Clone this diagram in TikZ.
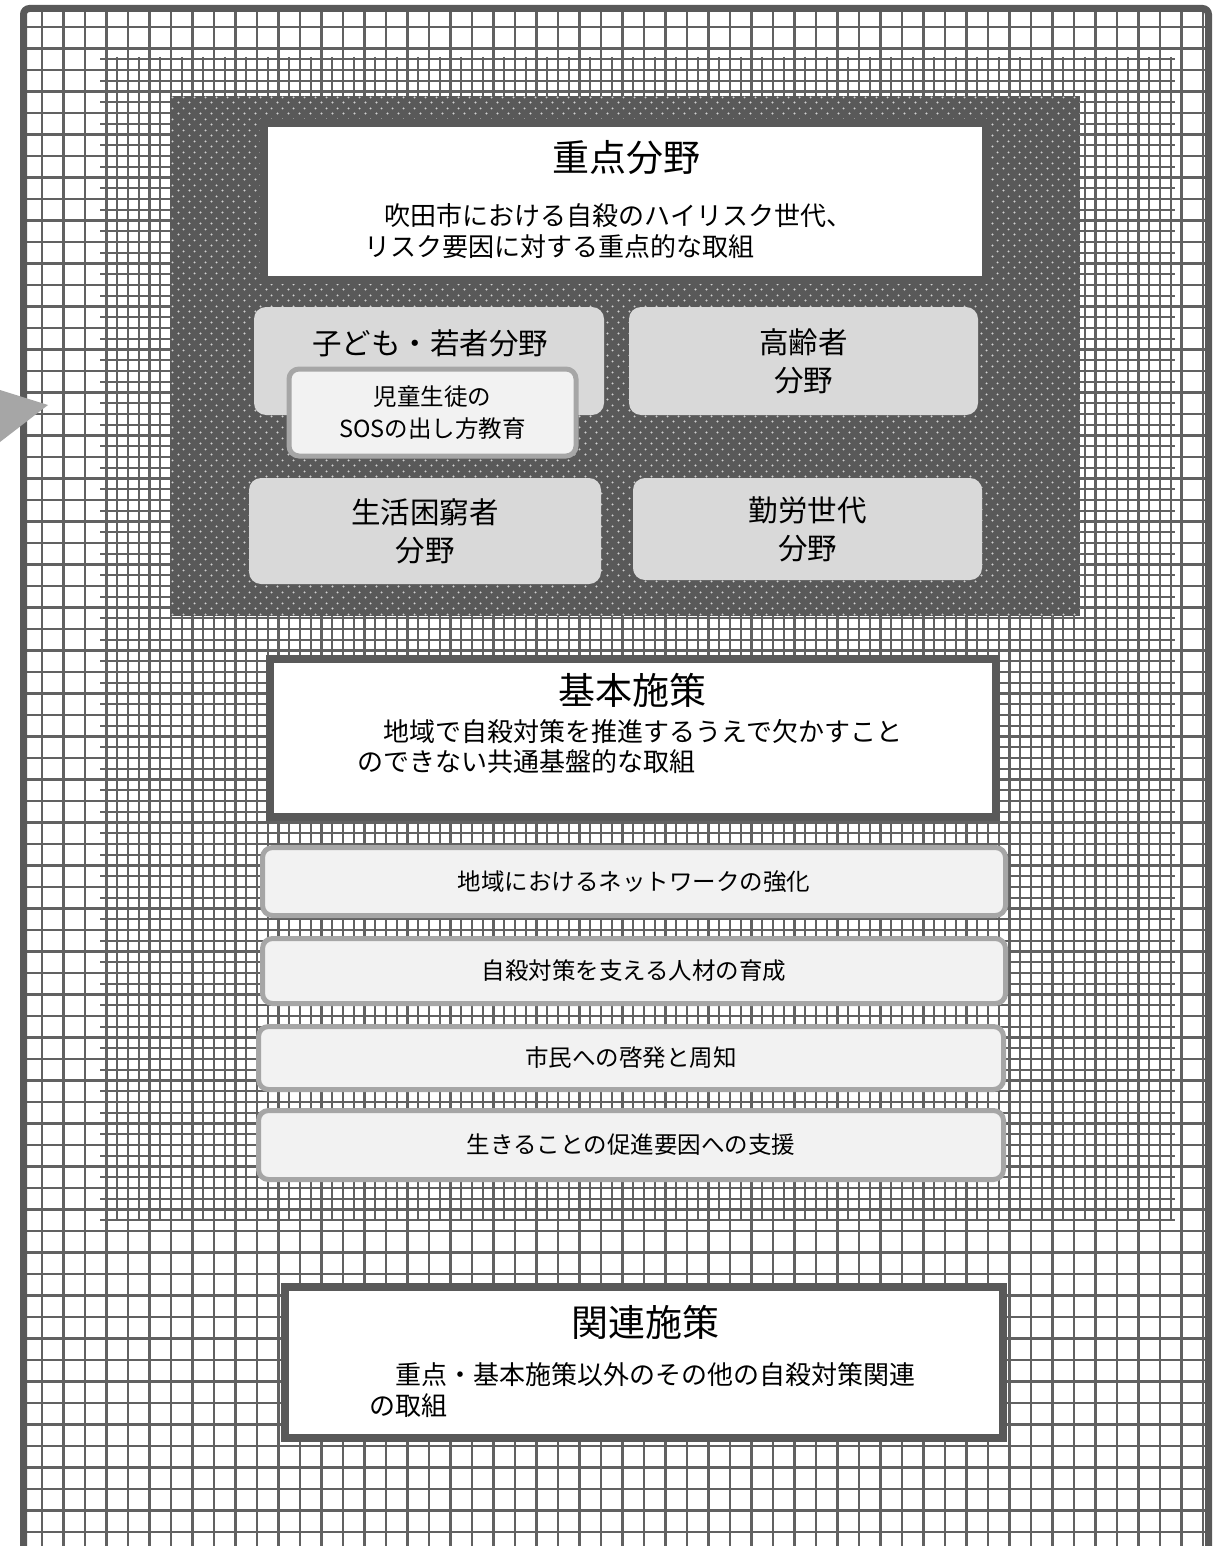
\documentclass[tikz,border=0pt]{standalone}
\usepackage{fontspec}
\setmainfont{Noto Sans CJK JP}
\usetikzlibrary{patterns.meta}
\definecolor{framegray}{HTML}{595959}
\definecolor{fieldgray}{HTML}{D9D9D9}
\definecolor{palegray}{HTML}{F2F2F2}
\definecolor{edgegray}{HTML}{A6A6A6}

\tikzdeclarepattern{
  name=halftone,
  type=uncolored,
  bounding box={(0pt,0pt) and (5.5pt,5.5pt)},
  tile size={(5.5pt,5.5pt)},
  code={
    \fill (1.375pt,1.375pt) circle (0.6pt);
    \fill (4.125pt,4.125pt) circle (0.6pt);
  }
}

\tikzset{
  gridline/.style={draw=black!62, line width=1.2pt},
  bigbox/.style={draw=framegray, fill=white, line width=4pt},
  fieldbox/.style={fill=fieldgray, rounded corners=6pt, align=center,
    font=\fontsize{14.75}{19}\selectfont},
  itembox/.style={draw=edgegray, fill=palegray, line width=2.5pt, rounded corners=5pt,
    align=center, font=\fontsize{11.75}{16}\selectfont},
  titletext/.style={font=\fontsize{18.5}{22}\selectfont},
  bodytext/.style={anchor=west, align=left, font=\fontsize{13}{15.25}\selectfont},
}

\begin{document}
\begin{tikzpicture}[x=0.5pt, y=-0.5pt]
\useasboundingbox (0,0) rectangle (1220,1546);
\clip (0,0) rectangle (1220,1546);
\fill[white] (0,0) rectangle (1220,1546);
\begin{scope}
\clip (27,12) rectangle (1205,1546);
\foreach \i in {0,...,54} \draw[gridline] ({42+21.5*\i},12) -- ({42+21.5*\i},1546);
\foreach \i in {0,...,71} \draw[gridline] (27,{27+21.5*\i}) -- (1205,{27+21.5*\i});
\end{scope}
\foreach \i in {6,...,105} \draw[gridline] ({42+10.75*\i},57) -- ({42+10.75*\i},1220);
\foreach \i in {3,...,111} \draw[gridline] (100,{27+10.75*\i}) -- (1175,{27+10.75*\i});
\draw[framegray, line width=3.5pt, rounded corners=3pt] (23.5,1560) |- (1208.5,8.5) -- (1208.5,1560);
\fill[edgegray] (0,390) -- (48,405) -- (0,442) -- cycle;

\fill[framegray] (170,96) rectangle (1080,616);
\fill[pattern=halftone, pattern color=black!18] (170,96) rectangle (1080,616);

\node[bigbox, minimum width=361pt, minimum height=78.25pt](juten) at (625,201.75){};
\node[titletext](jutentitle) at (626,158){重点分野};
\node[bodytext](jutenbody) at (357,231){\hspace*{0.8em}吹田市における自殺のハイリスク世代、\\リスク要因に対する重点的な取組};

\node[fieldbox, minimum width=175pt, minimum height=54pt](kodomo) at (429,361){};
\node[font=\fontsize{14.75}{19}\selectfont](kodomotitle) at (430,343){子ども・若者分野};
\node[itembox, minimum width=143.5pt, minimum height=43.5pt](sos) at (432.5,412.5){児童生徒の\\SOSの出し方教育};
\node[fieldbox, minimum width=174.5pt, minimum height=54pt](koreisha) at (803.5,361){高齢者\\分野};
\node[fieldbox, minimum width=176pt, minimum height=53pt](konkyu) at (425,531){生活困窮者\\分野};
\node[fieldbox, minimum width=174.5pt, minimum height=51pt](kinro) at (807.5,529){勤労世代\\分野};

\node[bigbox, minimum width=363pt, minimum height=79pt](kihon) at (633,738){};
\node[titletext](kihontitle) at (632,690){基本施策};
\node[bodytext](kihonbody) at (350,746.5){\hspace*{1em}地域で自殺対策を推進するうえで欠かすこと\\のできない共通基盤的な取組};

\node[itembox, minimum width=371.5pt, minimum height=34pt](network) at (634,881.5){地域におけるネットワークの強化};
\node[itembox, minimum width=371.5pt, minimum height=32.5pt](jinzai) at (634,971){自殺対策を支える人材の育成};
\node[itembox, minimum width=372.5pt, minimum height=31.5pt](keihatsu) at (631,1058){市民への啓発と周知};
\node[itembox, minimum width=372.5pt, minimum height=34.5pt](shien) at (631,1145){生きることの促進要因への支援};

\node[bigbox, minimum width=359pt, minimum height=75.5pt](kanren) at (644,1362.5){};
\node[titletext](kanrentitle) at (645,1322){関連施策};
\node[bodytext](kanrenbody) at (362,1390){\hspace*{1em}重点・基本施策以外のその他の自殺対策関連\\の取組};
\end{tikzpicture}
\end{document}
